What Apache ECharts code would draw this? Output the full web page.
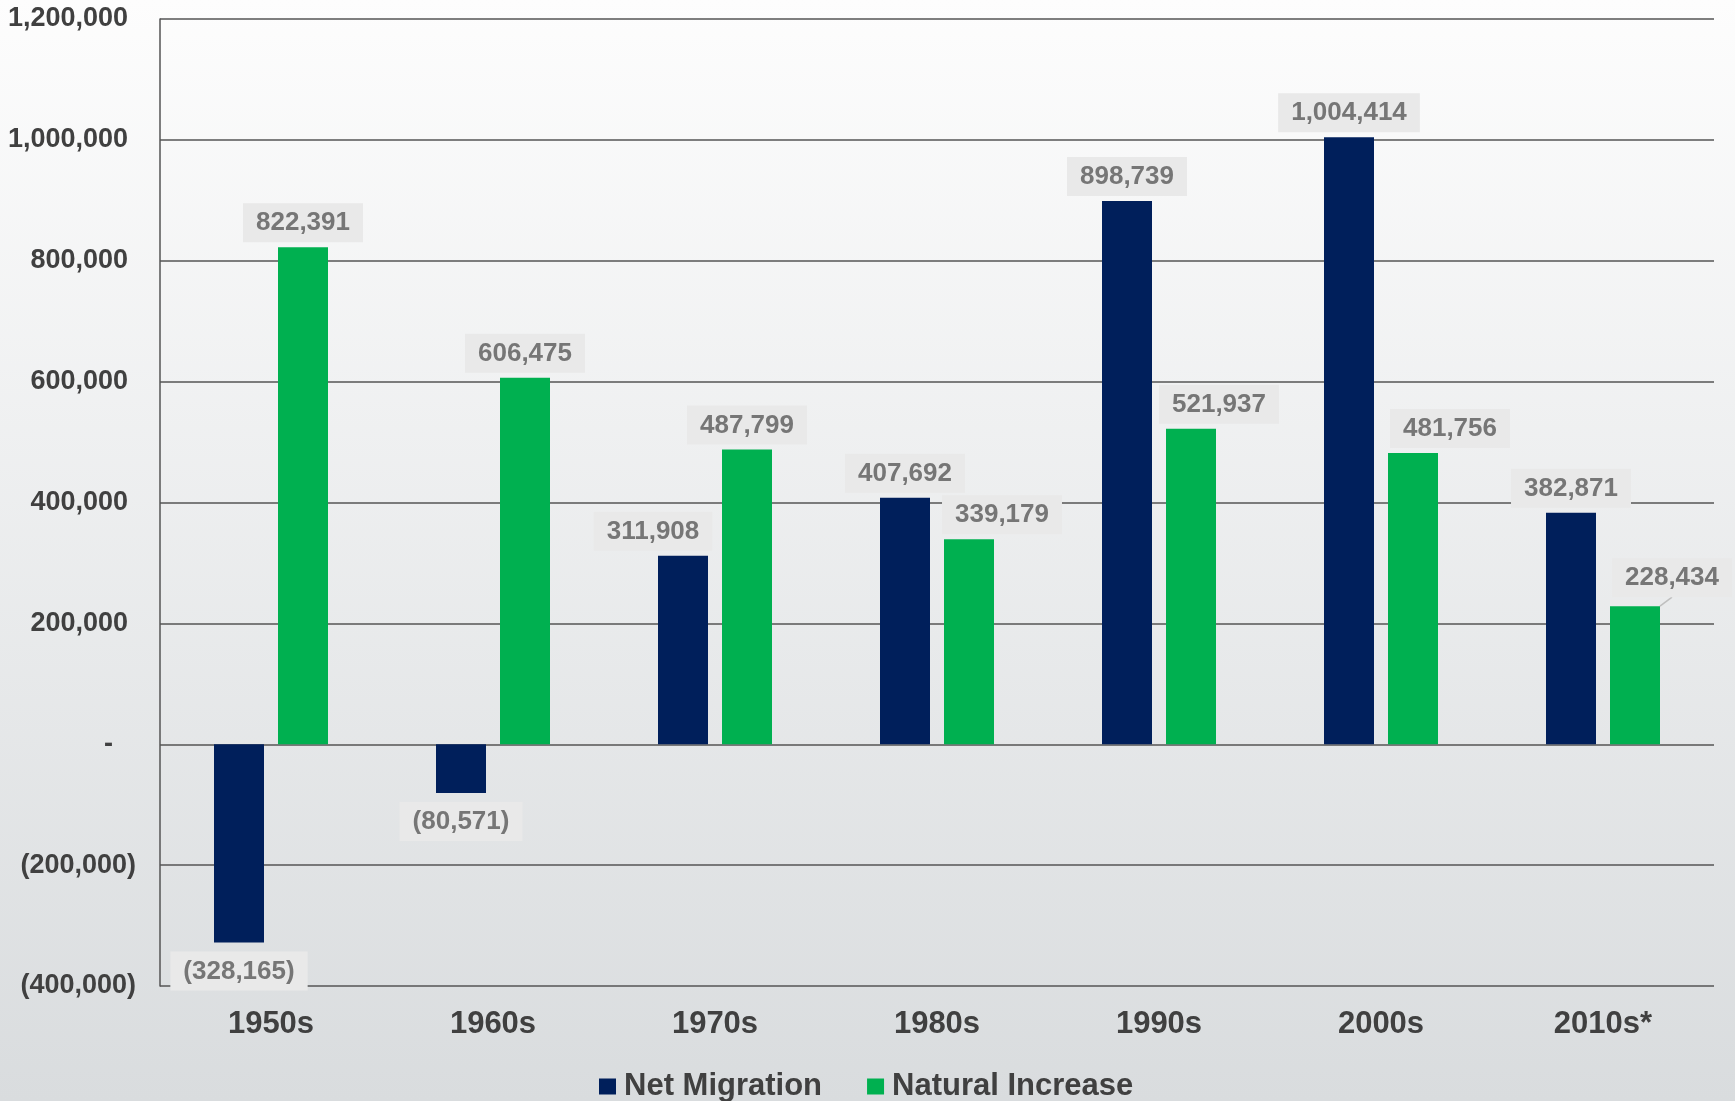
<!DOCTYPE html>
<html>
<head>
<meta charset="utf-8">
<script src="https://cdn.jsdelivr.net/npm/echarts@6/dist/echarts.min.js"></script>
<style>
html,body{margin:0;padding:0;width:1735px;height:1101px;overflow:hidden;background:linear-gradient(#fdfdfd,#d9dcde);}
#c{width:1735px;height:1101px;}
</style>
</head>
<body>
<div id="c"></div>
<script>
var categories = ['1950s','1960s','1970s','1980s','1990s','2000s','2010s*'];
var netMigration = [-328165, -80571, 311908, 407692, 898739, 1004414, 382871];
var naturalIncrease = [822391, 606475, 487799, 339179, 521937, 481756, 228434];
var seriesNames = ['Net Migration','Natural Increase'];
var yMin = -400000, yMax = 1200000, yStep = 200000;

// label horizontal shifts (presentation only)
var netLabelDx = [0, 0, -30, 0, 0, 0, 0];
var natLabelDx = [0, 0, 0, 33, 28, 37, 37];
var natLabelDy = [0, 0, 0, 0, 0, 0, -4];

var FONT = 'Liberation Sans, Arial, sans-serif';

function fmt(v){
  if (v === 0) return '-';
  var s = Math.abs(v).toString().replace(/\B(?=(\d{3})+(?!\d))/g, ',');
  return v < 0 ? '(' + s + ')' : s;
}
function axisFmt(v){
  var s = fmt(v);
  if (v === 0) return '{z|' + s + '}';
  if (v > 0) return '{p|' + s + '}';
  return '{n|' + s + '}';
}

var axisText = {fontFamily: FONT, fontWeight: 'bold', fontSize: 27, color: '#404040'};

var labelStyle = {
  show: true,
  color: '#767676',
  fontFamily: FONT,
  fontWeight: 'bold',
  fontSize: 26,
  backgroundColor: '#e9e9e9',
  padding: [7, 13, 6, 13],
  distance: 5,
  formatter: function(p){ return fmt(p.value); }
};

var chart = echarts.init(document.getElementById('c'), null, {renderer:'canvas'});
chart.setOption({
  backgroundColor: 'transparent',
  animation: false,
  grid: {left: 160, right: 21, top: 19, bottom: 115},
  legend: {
    left: 594, top: 1066,
    itemWidth: 17, itemHeight: 16, itemGap: 45,
    icon: 'rect',
    textStyle: {fontFamily: FONT, fontWeight: 'bold', fontSize: 31, color: '#404040', padding: [0,0,0,3]},
    data: seriesNames
  },
  xAxis: {
    type: 'category',
    data: categories,
    axisLine: {show: false},
    axisTick: {show: false},
    axisLabel: {margin: 23, fontFamily: FONT, fontWeight: 'bold', fontSize: 31, color: '#404040'}
  },
  yAxis: {
    type: 'value',
    min: yMin, max: yMax, interval: yStep,
    axisLine: {show: true, lineStyle: {color: '#555', width: 1.5}},
    axisTick: {show: false},
    axisLabel: {
      margin: 24, formatter: axisFmt,
      rich: {
        p: Object.assign({padding: [0, 8, 0, 0]}, axisText),
        n: Object.assign({}, axisText),
        z: Object.assign({padding: [0, 23, 0, 0]}, axisText)
      }
    },
    splitLine: {lineStyle: {color: '#555', width: 1.5}}
  },
  series: [
    {
      name: seriesNames[0],
      type: 'bar',
      barWidth: 50,
      barGap: '28%',
      itemStyle: {color: '#001f5b'},
      data: netMigration.map(function(v){
        return {value: v, label: v < 0 ? {position: 'bottom', distance: 9} : {position: 'top'}};
      }),
      label: labelStyle,
      labelLayout: function(p){ return {dx: netLabelDx[p.dataIndex]}; }
    },
    {
      name: seriesNames[1],
      type: 'bar',
      barWidth: 50,
      itemStyle: {color: '#00b050'},
      data: naturalIncrease.map(function(v, i){
        return {value: v, labelLine: {show: i === naturalIncrease.length - 1}};
      }),
      label: Object.assign({}, labelStyle, {position: 'top'}),
      labelLine: {show: false, lineStyle: {color: '#bfbfbf', width: 1.5}},
      labelLayout: function(p){ return {dx: natLabelDx[p.dataIndex], dy: natLabelDy[p.dataIndex]}; }
    }
  ]
});
</script>
</body>
</html>
